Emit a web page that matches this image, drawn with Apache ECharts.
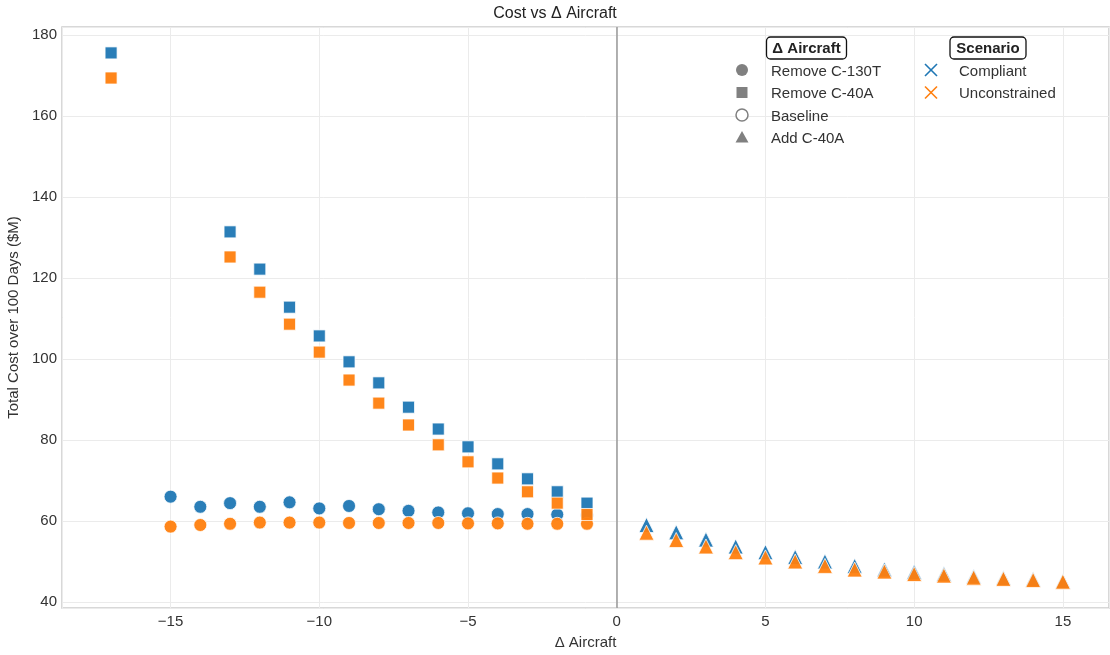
<!DOCTYPE html>
<html>
<head>
<meta charset="utf-8" />
<title>Cost vs Δ Aircraft</title>
<script src="https://cdn.jsdelivr.net/npm/echarts@6/dist/echarts.min.js"></script>
<style>
  * { margin: 0; padding: 0; }
  html, body { width: 100%; height: 100%; background: #fff; }
  #main { width: 1110px; height: 655px; }
</style>
</head>
<body>
<div id="main"></div>
<script>
// Δ Aircraft positions per group
const xRemoveC130T = [-15, -14, -13, -12, -11, -10, -9, -8, -7, -6, -5, -4, -3, -2, -1];
const xRemoveC40A = [-17, -13, -12, -11, -10, -9, -8, -7, -6, -5, -4, -3, -2, -1];
const xAddC40A = [1, 2, 3, 4, 5, 6, 7, 8, 9, 10, 11, 12, 13, 14, 15];

// total cost over 100 days ($M)
const compliantC130T = [66.0, 63.5, 64.4, 63.5, 64.6, 63.1, 63.7, 62.9, 62.5, 62.1, 61.9, 61.7, 61.7, 61.6, 61.5];
const unconstrainedC130T = [58.6, 59.0, 59.3, 59.6, 59.6, 59.6, 59.5, 59.5, 59.5, 59.5, 59.4, 59.4, 59.3, 59.3, 59.3];
const compliantC40A = [175.6, 131.4, 122.2, 112.8, 105.7, 99.3, 94.1, 88.1, 82.7, 78.3, 74.1, 70.4, 67.2, 64.4];
const unconstrainedC40A = [169.4, 125.2, 116.5, 108.6, 101.7, 94.8, 89.1, 83.7, 78.8, 74.6, 70.6, 67.2, 64.4, 61.6];
const compliantAdd = [59.0, 57.2, 55.4, 53.7, 52.3, 51.1, 50.0, 48.9, 48.0, 47.4, 46.9, 46.3, 45.9, 45.6, 45.1];
const unconstrainedAdd = [57.1, 55.3, 53.7, 52.3, 51.0, 50.0, 48.9, 48.0, 47.5, 46.9, 46.5, 46.0, 45.7, 45.4, 45.0];

const aircraftLabels = ['Remove C-130T', 'Remove C-40A', 'Baseline', 'Add C-40A'];
const scenarioLabels = ['Compliant', 'Unconstrained'];

const BLUE = '#1f77b4';
const ORANGE = '#ff7f0e';
const GREY = '#808080';
const FONT = '"Liberation Sans", Arial, sans-serif';

const pair = (xs, ys) => xs.map((x, i) => [x, ys[i]]);

function scatter(name, xs, ys, color, symbol, size) {
  return {
    name: name,
    type: 'scatter',
    data: pair(xs, ys),
    symbol: symbol,
    symbolSize: size,
    itemStyle: { color: color, opacity: 0.95, borderColor: '#fff', borderWidth: 0.8 },
    emphasis: { disabled: true }
  };
}

const series = [
  scatter('Compliant C-130T', xRemoveC130T, compliantC130T, BLUE, 'circle', 13),
  scatter('Compliant C-40A', xRemoveC40A, compliantC40A, BLUE, 'rect', 12),
  scatter('Compliant Add', xAddC40A, compliantAdd, BLUE, 'triangle', 15),
  scatter('Unconstrained C-130T', xRemoveC130T, unconstrainedC130T, ORANGE, 'circle', 13),
  scatter('Unconstrained C-40A', xRemoveC40A, unconstrainedC40A, ORANGE, 'rect', 12),
  scatter('Unconstrained Add', xAddC40A, unconstrainedAdd, ORANGE, 'triangle', 15)
];

// vertical reference line at Δ = 0
series[0].markLine = {
  silent: true,
  symbol: 'none',
  label: { show: false },
  lineStyle: { color: '#999', width: 1.5, type: 'solid' },
  data: [{ xAxis: 0 }]
};

// legend built by hand: two titled columns
const g = [];
function boxTitle(text, cx, cy, w) {
  g.push({
    type: 'rect', shape: { x: cx - w / 2, y: cy - 11, width: w, height: 22, r: 4 },
    style: { fill: '#fff', stroke: '#111', lineWidth: 1.3 }, z: 100
  });
  g.push({
    type: 'text', x: cx, y: cy + 1,
    style: { text: text, font: 'bold 15px ' + FONT, fill: '#222', align: 'center', verticalAlign: 'middle' }, z: 101
  });
}
function label(text, x, y) {
  g.push({
    type: 'text', x: x, y: y + 1.5,
    style: { text: text, font: '15px ' + FONT, fill: '#333', align: 'left', verticalAlign: 'middle' }, z: 101
  });
}
boxTitle('Δ Aircraft', 806.5, 48, 80);
boxTitle('Scenario', 988, 48, 76);

const rowY = [70, 92.5, 115, 137.5];
const mx = 742, tx = 771;
g.push({ type: 'circle', shape: { cx: mx, cy: rowY[0], r: 6 }, style: { fill: GREY }, z: 101 });
g.push({ type: 'rect', shape: { x: mx - 5.5, y: rowY[1] - 5.5, width: 11, height: 11 }, style: { fill: GREY }, z: 101 });
g.push({ type: 'circle', shape: { cx: mx, cy: rowY[2], r: 6 }, style: { fill: '#fff', stroke: GREY, lineWidth: 1.5 }, z: 101 });
g.push({ type: 'polygon', shape: { points: [[mx, rowY[3] - 6.5], [mx + 6.5, rowY[3] + 5], [mx - 6.5, rowY[3] + 5]] }, style: { fill: GREY }, z: 101 });
aircraftLabels.forEach((t, i) => label(t, tx, rowY[i]));

const sx = 931, stx = 959;
[BLUE, ORANGE].forEach((c, i) => {
  const y = rowY[i];
  g.push({ type: 'line', shape: { x1: sx - 6, y1: y - 6, x2: sx + 6, y2: y + 6 }, style: { stroke: c, lineWidth: 1.6 }, z: 101 });
  g.push({ type: 'line', shape: { x1: sx - 6, y1: y + 6, x2: sx + 6, y2: y - 6 }, style: { stroke: c, lineWidth: 1.6 }, z: 101 });
  label(scenarioLabels[i], stx, y);
});

const myChart = echarts.init(document.getElementById('main'), null, { renderer: 'canvas' });
myChart.setOption({
  animation: false,
  backgroundColor: '#fff',
  textStyle: { fontFamily: FONT },
  title: {
    text: 'Cost vs Δ Aircraft',
    left: 'center',
    top: 1,
    textStyle: { fontSize: 16, fontWeight: 'normal', color: '#222', fontFamily: FONT }
  },
  grid: {
    left: 62, right: 1, top: 27, bottom: 47,
    show: true, borderColor: '#cccccc', borderWidth: 1.5,
    containLabel: false, outerBoundsMode: 'none'
  },
  xAxis: {
    type: 'value',
    min: -18.65, max: 16.55,
    splitNumber: 7,
    name: 'Δ Aircraft',
    nameLocation: 'middle',
    nameGap: 27,
    nameTextStyle: { fontSize: 15, color: '#333' },
    axisLine: { show: false },
    axisTick: { show: false },
    axisLabel: {
      fontSize: 15, color: '#333', margin: 6,
      showMinLabel: false, showMaxLabel: false,
      formatter: v => String(v).replace('-', '\u2212')
    },
    splitLine: { lineStyle: { color: '#ebebeb', width: 1 } }
  },
  yAxis: {
    type: 'value',
    min: 38.5, max: 182,
    splitNumber: 7,
    name: 'Total Cost over 100 Days ($M)',
    nameLocation: 'middle',
    nameGap: 37,
    nameTextStyle: { fontSize: 15, color: '#333' },
    axisLine: { show: false },
    axisTick: { show: false },
    axisLabel: {
      fontSize: 15, color: '#333', margin: 5,
      showMinLabel: false, showMaxLabel: false
    },
    splitLine: { lineStyle: { color: '#ebebeb', width: 1 } }
  },
  graphic: g,
  series: series
});
</script>
</body>
</html>
